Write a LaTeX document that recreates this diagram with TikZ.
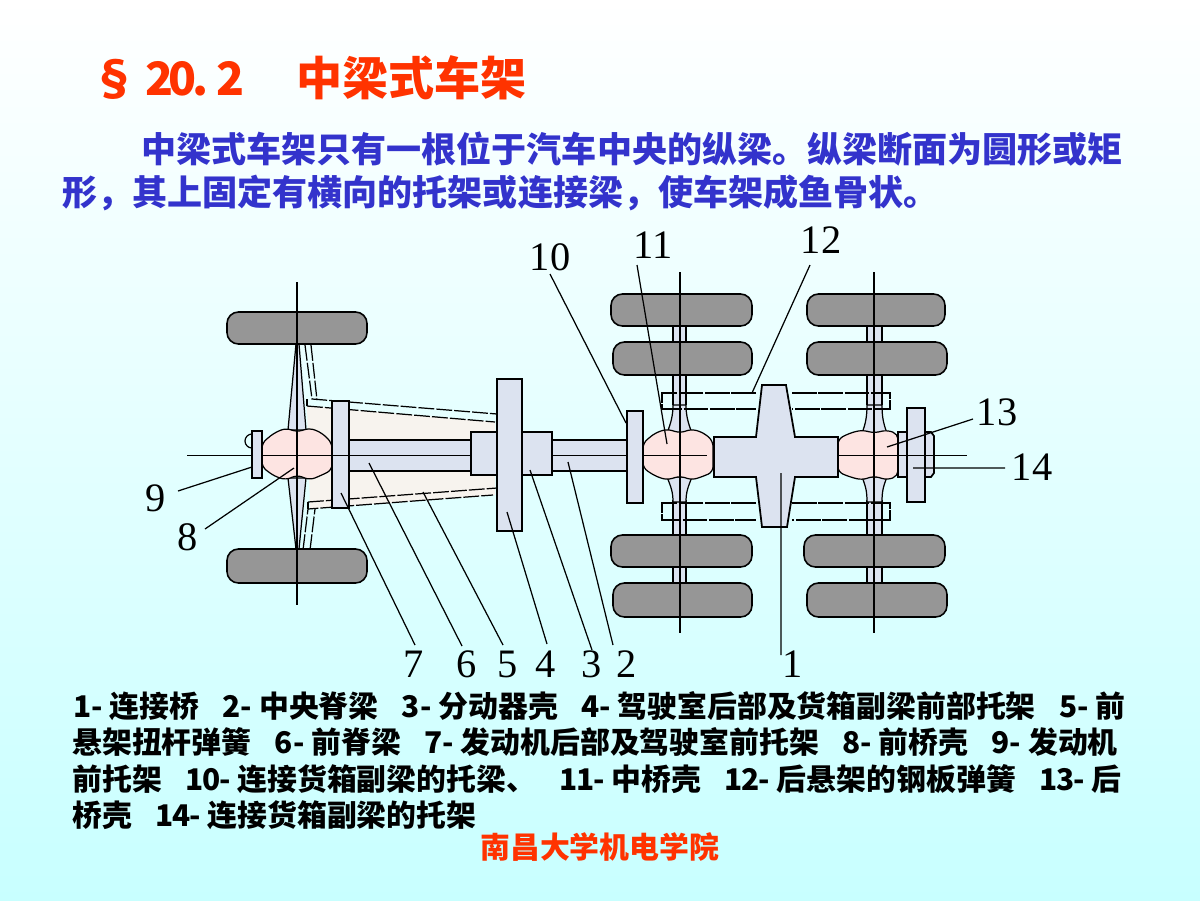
\documentclass[tikz,border=0pt]{standalone}
\usepackage{fontspec}
\setmainfont{Noto Sans CJK SC}
\newfontfamily\numfont{Liberation Serif}
\usetikzlibrary{positioning}
\definecolor{bgcyan}{HTML}{C8FFFF}
\definecolor{titlered}{HTML}{FF3300}
\definecolor{bodyblue}{HTML}{3333CC}
\definecolor{wheelgray}{HTML}{969696}
\definecolor{partblue}{HTML}{DCE3F0}
\definecolor{hubpink}{HTML}{FDE4E2}
\definecolor{bodycream}{HTML}{F7F3EE}
\newcommand{\sep}{\hspace{.78em}}
\newcommand{\twodig}[1]{{\addfontfeature{LetterSpace=-4}#1}}
\tikzset{x=0.02cm, y=-0.02cm,
	txt/.style={anchor=base west, inner sep=0pt, font=\bfseries\fontsize{17}{20}\selectfont},
	headline/.style={txt, text=titlered, font=\bfseries\fontsize{26.2}{30}\selectfont},
	intro/.style={txt, text=bodyblue, font=\bfseries\fontsize{19.95}{24}\selectfont},
	partno/.style={inner sep=0pt, font=\numfont\fontsize{23}{24}\selectfont},
	wheel/.style={draw, line width=.9pt, fill=wheelgray, rounded corners=6.5pt},
	part/.style={draw, line width=1pt, fill=partblue},
	hub/.style={draw, line width=.7pt, fill=hubpink, rounded corners=3pt},
	axis/.style={line width=.9pt},
	centre/.style={line width=.5pt},
	leader/.style={line width=.7pt},
	spring/.style={line width=.7pt, dash pattern=on 9pt off 1.2pt},
	leaf/.style={line width=.6pt, dash pattern=on 14pt off 1pt}}

\begin{document}
\begin{tikzpicture}
	\path[use as bounding box, top color=white, bottom color=bgcyan] (0,0) rectangle (1200,900);

	% title and text
	\node[headline] (title0) at (91,95) {§};
	\node[headline] (title1) at (145,95) {\addfontfeature{LetterSpace=-10}20. 2};
	\node[headline] (title2) at (296,95) {中梁式车架};
	\node[intro] (intro1) at (141,162) {中梁式车架只有一根位于汽车中央的纵梁。纵梁断面为圆形或矩};
	\node[intro] (intro2) at (62,205) {形，其上固定有横向的托架或连接梁，使车架成鱼骨状。};
	\node[txt] (list1) at (73,717) {1- 连接桥\sep 2- 中央脊梁\sep 3- 分动器壳\sep 4- 驾驶室后部及货箱副梁前部托架\sep 5- 前};
	\node[txt] (list2) at (72,753) {悬架扭杆弹簧\sep 6- 前脊梁\sep 7- 发动机后部及驾驶室前托架\sep 8- 前桥壳\sep 9- 发动机};
	\node[txt] (list3) at (72,790) {前托架\sep \twodig{10-} 连接货箱副梁的托梁、\sep \twodig{11-} 中桥壳\sep \twodig{12-} 后悬架的钢板弹簧\sep \twodig{13-} 后};
	\node[txt] (list4) at (72,826) {桥壳\sep \twodig{14-} 连接货箱副梁的托架};
	\node[txt, text=titlered] (school) at (480,858) {南昌大学机电学院};

	% front body and springs
	\fill[bodycream] (307,406) -- (495,422) -- (495,495) -- (310,509) -- cycle;
	\draw[spring] (305,345) -- (312,399) -- (497,414);
	\draw[spring] (311,345) -- (317,400);
	\draw[spring] (307,406) -- (495,422);
	\draw[spring] (303,550) -- (308,509) -- (493,495);
	\draw[spring] (310,550) -- (315,509);
	\draw[spring] (308,502) -- (497,488);
	\draw[line width=.7pt] (308,502) -- (308,509);
	\draw[line width=.7pt] (307,399) -- (307,406);

	% front axle
	\draw[line width=.7pt, fill=partblue] (288,430) -- (296,344) -- (299,344) -- (306,430) -- cycle;
	\draw[line width=.7pt, fill=partblue] (288,478) -- (296,549) -- (299,549) -- (306,478) -- cycle;

	% rear axles
	\fill[partblue] (673,326) rectangle (686,535);
	\fill[partblue] (673,567) rectangle (686,583);
	\fill[partblue] (867,326) rectangle (882,535);
	\fill[partblue] (867,567) rectangle (882,583);
	\draw[line width=.7pt] (673,326) -- (673,405) (686,326) -- (686,405) (673,500) -- (673,535) (686,500) -- (686,535) (673,567) -- (673,583) (686,567) -- (686,583);
	\draw[line width=.7pt] (867,326) -- (867,405) (882,326) -- (882,405) (867,500) -- (867,535) (882,500) -- (882,535) (867,567) -- (867,583) (882,567) -- (882,583);
	\draw[line width=.7pt, fill=partblue] (667,433) .. controls (671,423) and (673,415) .. (673,405) -- (686,405) .. controls (686,415) and (688,423) .. (692,433) -- cycle;
	\draw[line width=.7pt, fill=partblue] (667,477) .. controls (671,487) and (673,492) .. (673,502) -- (686,502) .. controls (686,492) and (688,487) .. (692,477) -- cycle;
	\draw[line width=.7pt, fill=partblue] (862,433) .. controls (866,423) and (867,415) .. (867,405) -- (882,405) .. controls (882,415) and (883,423) .. (887,433) -- cycle;
	\draw[line width=.7pt, fill=partblue] (862,477) .. controls (866,487) and (867,492) .. (867,502) -- (882,502) .. controls (882,492) and (883,487) .. (887,477) -- cycle;

	% leaf springs
	\draw[leaf] (756,393) -- (662,393) -- (662,409) -- (756,409);
	\draw[leaf] (756,503) -- (662,503) -- (662,520) -- (756,520);
	\draw[leaf] (792,393) -- (890,393) -- (890,409) -- (792,409);
	\draw[leaf] (792,503) -- (890,503) -- (890,520) -- (792,520);

	% wheels
	\draw[wheel] (227,312) rectangle (367,344);
	\draw[wheel] (227,549) rectangle (367,583);
	\draw[wheel] (611,294) rectangle (752,326);
	\draw[wheel] (613,342) rectangle (752,375);
	\draw[wheel] (611,535) rectangle (752,567);
	\draw[wheel] (613,583) rectangle (752,617);
	\draw[wheel] (807,294) rectangle (945,326);
	\draw[wheel] (807,342) rectangle (947,375);
	\draw[wheel] (804,535) rectangle (945,567);
	\draw[wheel] (807,583) rectangle (947,617);

	% hubs
	\draw[hub] (262,443) -- (274,433) -- (286,428) -- (297,432) -- (310,428) -- (322,433) -- (332,443) -- (332,470) -- (322,475) -- (310,480) -- (297,475) -- (286,480) -- (274,476) -- (262,467) -- cycle;
	\draw[hub] (643,443) -- (655,433) -- (667,429) -- (680,433) -- (692,429) -- (704,433) -- (713,441) -- (713,472) -- (704,476) -- (692,480) -- (680,476) -- (667,480) -- (655,476) -- (643,468) -- cycle;
	\draw[hub] (838,439) -- (850,433) -- (862,430) -- (874,433) -- (887,430) -- (898,434) -- (898,476) -- (887,480) -- (874,476) -- (862,480) -- (850,477) -- (838,472) -- cycle;

	% spine, plates and blocks
	\draw[part] (349,440) rectangle (471,471);
	\draw[part] (552,440) rectangle (627,471);
	\draw[part] (471,432) rectangle (498,475);
	\draw[part] (522,432) rectangle (552,475);
	\draw[part] (252,431) rectangle (262,478);
	\draw[part] (332,401) rectangle (349,508);
	\draw[part] (497,379) rectangle (522,531);
	\draw[part] (627,411) rectangle (643,503);
	\draw[part] (898,432) rectangle (907,477);
	\draw[part] (925,432) -- (931,432) -- (934,436) -- (934,473) -- (931,477) -- (925,477) -- cycle;
	\draw[part] (907,408) rectangle (925,502);
	\draw[line width=.7pt] (252,448) arc (90:270:7);

	% connecting bridge
	\draw[line width=1pt, fill=partblue] (714,437) -- (756,437) -- (762,385) -- (786,385) -- (795,437) -- (838,437) -- (838,477) -- (795,477) -- (787,527) -- (762,527) -- (756,477) -- (714,477) -- cycle;

	% centre lines
	\draw[centre] (187,455) -- (252,455);
	\draw[centre] (262,455) -- (471,455);
	\draw[centre] (552,455) -- (627,455);
	\draw[centre] (643,455) -- (707,455);
	\draw[centre] (838,455) -- (967,455);
	\draw[axis] (297,282) -- (297,605);
	\draw[axis] (680,272) -- (680,633);
	\draw[axis] (874,272) -- (874,633);

	% numbers
	\node[partno] (n1) at (793,664) {1};
	\node[partno] (n2) at (627,664) {2};
	\node[partno] (n3) at (592,664) {3};
	\node[partno] (n4) at (546,664) {4};
	\node[partno] (n5) at (508,664) {5};
	\node[partno] (n6) at (467,664) {6};
	\node[partno] (n7) at (414,664) {7};
	\node[partno] (n8) at (188,537) {8};
	\node[partno] (n9) at (156,498) {9};
	\node[partno] (n10) at (550,257) {10};
	\node[partno] (n11) at (653,245) {11};
	\node[partno] (n12) at (821,240) {12};
	\node[partno] (n13) at (997,412) {13};
	\node[partno] (n14) at (1032,467) {14};

	% leaders
	\coordinate (p1) at (781,473);  \coordinate (e1) at (781,655);
	\coordinate (p2) at (568,462);  \coordinate (e2) at (613,645);
	\coordinate (p3) at (530,470);  \coordinate (e3) at (592,650);
	\coordinate (p4) at (507,512);  \coordinate (e4) at (547,644);
	\coordinate (p5) at (423,492);  \coordinate (e5) at (503,645);
	\coordinate (p6) at (369,463);  \coordinate (e6) at (462,646);
	\coordinate (p7) at (341,493);  \coordinate (e7) at (415,645);
	\coordinate (p8) at (294,468);  \coordinate (e8) at (205,529);
	\coordinate (p9) at (252,467);  \coordinate (e9) at (178,491);
	\coordinate (p10) at (626,423); \coordinate (e10) at (550,274);
	\coordinate (p11) at (667,444); \coordinate (e11) at (637,265);
	\coordinate (p12) at (752,393); \coordinate (e12) at (810,265);
	\coordinate (p13) at (887,447); \coordinate (e13) at (973,419);
	\coordinate (p14) at (913,468); \coordinate (e14) at (1005,468);
	\path[draw, leader]
	(p1) -- (e1) (p2) -- (e2) (p3) -- (e3) (p4) -- (e4) (p5) -- (e5)
	(p6) -- (e6) (p7) -- (e7) (p8) -- (e8) (p9) -- (e9) (p10) -- (e10)
	(p11) -- (e11) (p12) -- (e12) (p13) -- (e13) (p14) -- (e14);
\end{tikzpicture}
\end{document}
